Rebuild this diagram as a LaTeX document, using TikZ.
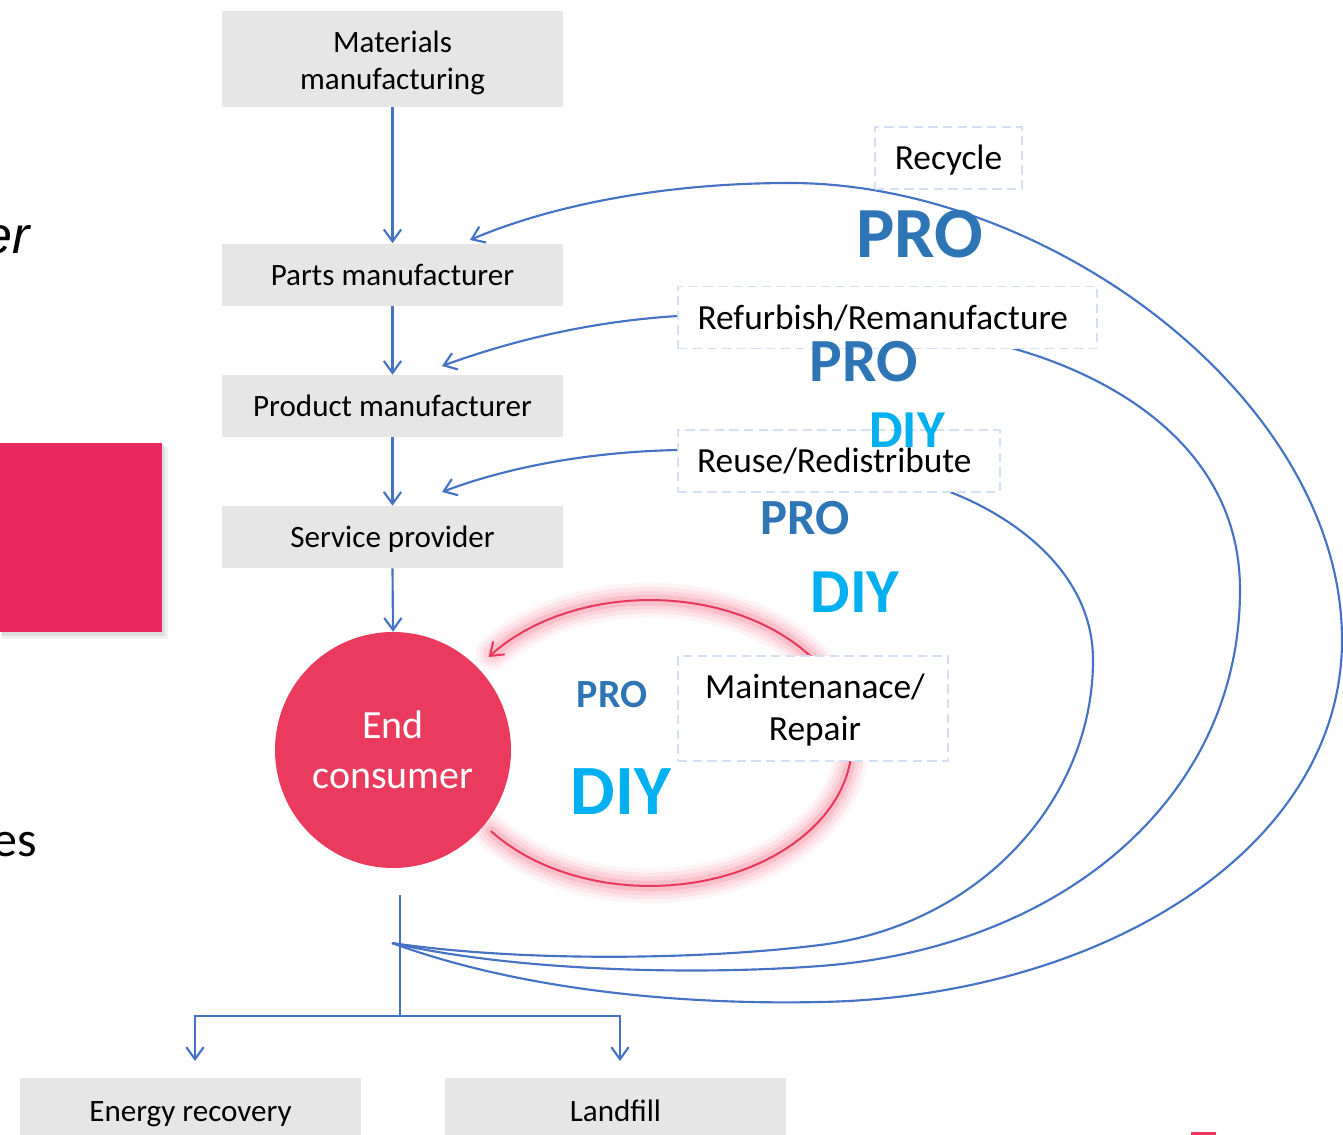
\documentclass[tikz,border=0pt]{standalone}
\usepackage{fontspec}
\setmainfont{Carlito}
\newfontfamily\arialfont{Liberation Sans}
\usetikzlibrary{arrows.meta}
\definecolor{arrblue}{HTML}{4472C4}
\definecolor{boxgray}{HTML}{E6E6E6}
\definecolor{probl}{HTML}{2E75B6}
\definecolor{diybl}{HTML}{00B0F0}
\definecolor{cred}{HTML}{EA3A5E}
\definecolor{loopred}{HTML}{E8395C}
\definecolor{glowpink}{HTML}{F06A86}
\definecolor{dashbl}{HTML}{D3DFF2}
\definecolor{pinkbox}{HTML}{E8285F}
\pgfdeclarelayer{bg}
\pgfsetlayers{bg,main}
\begin{document}
\begin{tikzpicture}[x=0.75pt,y=-0.75pt,
  graybox/.style={fill=boxgray, minimum width=255.75pt, minimum height=46.5pt, align=center, inner sep=0pt,
    font=\fontsize{23.3}{27.75}\selectfont},
  dbox/.style={fill=white, draw=dashbl, line width=1.4pt, dash pattern=on 7pt off 4pt, minimum height=46.5pt,
    align=center, inner sep=0pt, font=\fontsize{26.5}{31.5}\selectfont},
  bline/.style={draw=arrblue, line width=1.6pt},
  barrow/.style={bline, -{Straight Barb[length=9pt,width=13pt,line width=1.6pt]}},
  protext/.style={text=probl, inner sep=0pt, font=\bfseries\fontsize{#1}{#1}\selectfont},
  diytext/.style={text=diybl, inner sep=0pt, font=\bfseries\fontsize{#1}{#1}\selectfont}]
\useasboundingbox (0,0) rectangle (1343,1135);

% left cut-off items
\fill[black,opacity=0.06] (2,447) rectangle (168,639);
\fill[black,opacity=0.08] (1,445) rectangle (165,636);
\fill[pinkbox] (0,443) rectangle (162,632);
\node[anchor=base east, inner sep=0pt, font=\arialfont\itshape\fontsize{39}{39}\selectfont] (er) at (30,253) {er};
\node[anchor=base east, inner sep=0pt, font=\fontsize{37.5}{37.5}\selectfont] (es) at (37,856) {es};
\fill[cred] (1191,1132) rectangle (1216,1136);

% main column
\node[graybox, minimum height=72pt] (mat) at (392.5,59) {\rule{0pt}{22pt}Materials\\manufacturing};
\node[graybox] (parts) at (392.5,274.5) {Parts manufacturer};
\node[graybox] (prod) at (392.5,406) {Product manufacturer};
\node[graybox] (serv) at (392.5,537) {\rule{0pt}{19pt}Service provider};
\node[circle, fill=cred, minimum size=177pt, inner sep=0pt, text=white, align=center,
  font=\fontsize{30}{37.5}\selectfont] (cons) at (393,750) {End\\consumer};
\node[graybox, minimum height=49.5pt] (energy) at (190.5,1111) {\rule{0pt}{19pt}Energy recovery};
\node[graybox, minimum height=49.5pt] (land) at (615.5,1111) {Landfill};

\draw[barrow] (mat.south) -- (parts.north);
\draw[barrow] (parts.south) -- (prod.north);
\draw[barrow] (prod.south) -- (serv.north);
\draw[barrow] (serv.south) -- (cons.north);

% bottom split
\coordinate (hub) at (392,943);
\coordinate (vtop) at (400,895);
\coordinate (vbot) at (400,1016);
\coordinate (etip) at (195,1061);
\coordinate (ltip) at (620,1061);
\draw[bline] (vtop) -- (vbot);
\draw[barrow] (vbot) -| (etip);
\draw[barrow] (vbot) -| (ltip);

% dashed boxes
\node[dbox, minimum width=110.25pt] (recyc) at (948.5,158) {\rule{0pt}{22pt}Recycle};
\node[dbox, minimum width=314.25pt] (refurb) at (887.5,317.5) {Refurbish/Remanufacture\hspace{7pt}};
\node[dbox, minimum width=241.5pt] (reuse) at (839,461) {Reuse/Redistribute\hspace{7pt}};
\node[dbox, minimum width=202.5pt, minimum height=78.75pt] (maint) at (813,708.5) {\rule{0pt}{21pt}\hspace{3pt}Maintenanace/\\\hspace{3pt}Repair};

\coordinate (rcTip) at (470,240);
\coordinate (rfTip) at (442,366);
\coordinate (ruTip) at (442,492);

\begin{pgfonlayer}{bg}
  % return loops
  \draw[barrow] (hub) .. controls (520,990) and (680,1005) .. (820,1002)
     .. controls (1100,997) and (1342,850) .. (1342,640)
     .. controls (1342,400) and (1050,183) .. (790,183)
     .. controls (650,183) and (540,210) .. (rcTip);
  \draw[barrow] (hub) .. controls (520,972) and (700,975) .. (820,966)
     .. controls (1060,948) and (1240,800) .. (1240,590)
     .. controls (1240,440) and (1100,370) .. (1000,345)
     .. controls (900,320) and (750,312) .. (678,316)
     .. controls (580,322) and (500,345) .. (rfTip);
  \draw[barrow] (hub) .. controls (520,962) and (700,960) .. (820,945)
     .. controls (980,925) and (1093,800) .. (1093,660)
     .. controls (1093,570) and (1010,515) .. (950,492)
     .. controls (850,460) and (740,448) .. (678,450)
     .. controls (580,452) and (500,470) .. (ruTip);
  % glow
  \foreach \w/\o in {26/0.08,20/0.1,14/0.14,8/0.2}{
    \draw[glowpink, line width=\w pt, opacity=\o, line cap=round]
      plot[domain=142:-141, samples=80] ({650+202*cos(\x)},{743+143*sin(\x)});
  }
  \draw[loopred, line width=1.5pt, -{Straight Barb[length=9pt,width=13pt,line width=1.5pt]}]
      plot[domain=142:-143, samples=80] ({650+202*cos(\x)},{743+143*sin(\x)});
\end{pgfonlayer}

% PRO / DIY labels
\node[protext=54] (pro1) at (920,234) {PRO};
\node[protext=46] (pro2) at (864,362) {PRO};
\node[diytext=40] (diy1) at (907,430) {DIY};
\node[protext=38] (pro3) at (805,518) {PRO};
\node[diytext=47] (diy2) at (855,592) {DIY};
\node[protext=30] (pro4) at (612,695) {PRO};
\node[diytext=53] (diy3) at (621,792) {DIY};
\end{tikzpicture}
\end{document}
